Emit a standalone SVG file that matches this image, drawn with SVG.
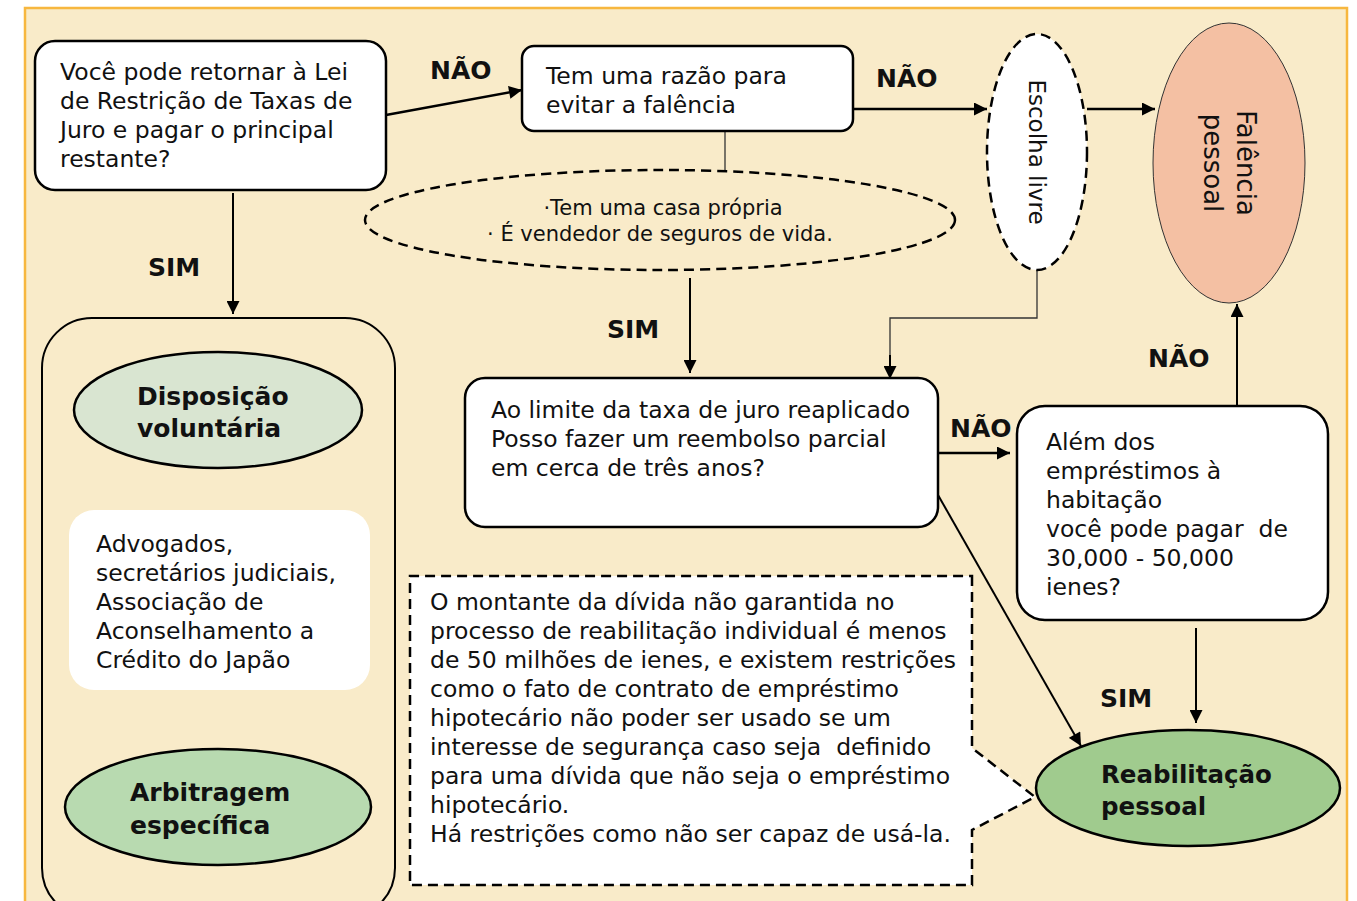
<svg xmlns="http://www.w3.org/2000/svg" width="1357" height="901" viewBox="0 0 1357 901">
<defs>
<marker id="ah" viewBox="0 0 10 10" refX="10" refY="5" markerWidth="15" markerHeight="13" markerUnits="userSpaceOnUse" orient="auto"><path d="M0,0 L10,5 L0,10 z" fill="#000"/></marker>
<style>
.t{font-family:"DejaVu Sans",Verdana,sans-serif;font-size:23.5px;fill:#111;white-space:pre}
.b{font-family:"DejaVu Sans",Verdana,sans-serif;font-size:25px;font-weight:bold;fill:#111}
.lb{font-family:"DejaVu Sans",Verdana,sans-serif;font-size:25px;font-weight:bold;fill:#111}
.box{fill:#fff;stroke:#000;stroke-width:2.5}
.ln{fill:none;stroke:#000;stroke-width:2}
.thin{fill:none;stroke:#333;stroke-width:1.3}
.dash{stroke:#000;stroke-width:2.5;stroke-dasharray:10 6}
</style>
</defs>
<rect x="25" y="8" width="1322" height="900" fill="#F9EBC9" stroke="#F7B73F" stroke-width="2.5"/>

<g id="connectors">
<line class="ln" x1="386" y1="115" x2="522" y2="90" marker-end="url(#ah)" style="stroke-width:2.5"/>
<text class="lb" x="430" y="79">NÃO</text>
<line class="thin" x1="725" y1="131" x2="725" y2="170"/>
<line class="ln" x1="850" y1="109" x2="987" y2="109" marker-end="url(#ah)" style="stroke-width:2.5"/>
<text class="lb" x="876" y="87">NÃO</text>
<line class="ln" x1="1087" y1="109" x2="1155" y2="109" marker-end="url(#ah)" style="stroke-width:2.5"/>
<polyline class="thin" points="1037,270 1037,318 890,318 890,360"/>
<line class="ln" x1="890" y1="355" x2="890" y2="379" marker-end="url(#ah)"/>
<line class="ln" x1="690" y1="278" x2="690" y2="373" marker-end="url(#ah)"/>
<text class="lb" x="607" y="338">SIM</text>
<line class="ln" x1="938" y1="453" x2="1010" y2="453" marker-end="url(#ah)" style="stroke-width:2.5"/>
<text class="lb" x="950" y="437">NÃO</text>
<line class="ln" x1="1237" y1="406" x2="1237" y2="304" marker-end="url(#ah)"/>
<text class="lb" x="1148" y="367">NÃO</text>
<line class="ln" x1="1196" y1="628" x2="1196" y2="723" marker-end="url(#ah)"/>
<text class="lb" x="1100" y="707">SIM</text>
<line class="ln" x1="938" y1="495" x2="1081" y2="746" marker-end="url(#ah)"/>
<line class="ln" x1="233" y1="193" x2="233" y2="314" marker-end="url(#ah)"/>
<text class="lb" x="148" y="276">SIM</text>
</g>

<g id="n1">
<rect class="box" x="35" y="41" width="351" height="149" rx="20"/>
<text class="t" x="60" y="80">Você pode retornar à Lei</text>
<text class="t" x="60" y="109">de Restrição de Taxas de</text>
<text class="t" x="60" y="138">Juro e pagar o principal</text>
<text class="t" x="60" y="167">restante?</text>
</g>

<g id="n2">
<rect class="box" x="522" y="46" width="331" height="85" rx="12"/>
<text class="t" x="546" y="84">Tem uma razão para</text>
<text class="t" x="546" y="113">evitar a falência</text>
</g>

<g id="cond">
<ellipse class="dash" cx="660" cy="220" rx="295" ry="50" fill="none"/>
<text class="t" x="663" y="215" text-anchor="middle" style="font-size:21px">·Tem uma casa própria</text>
<text class="t" x="660" y="241" text-anchor="middle" style="font-size:21px">· É vendedor de seguros de vida.</text>
</g>

<g id="escolha">
<ellipse class="dash" cx="1037" cy="152" rx="50" ry="118" fill="#fff"/>
<text class="t" transform="translate(1029,152) rotate(90)" text-anchor="middle" x="0" y="0" style="font-size:23px">Escolha livre</text>
</g>

<g id="falencia">
<ellipse cx="1229" cy="163" rx="76" ry="140" fill="#F4C0A3" stroke="#333" stroke-width="1"/>
<text class="t" transform="translate(1229,163) rotate(90)" text-anchor="middle" style="font-size:26px"><tspan x="0" y="-8">Falência</tspan><tspan x="0" y="25">pessoal</tspan></text>
</g>

<g id="n3">
<rect class="box" x="465" y="378" width="473" height="149" rx="20"/>
<text class="t" x="491" y="418">Ao limite da taxa de juro reaplicado</text>
<text class="t" x="491" y="447">Posso fazer um reembolso parcial</text>
<text class="t" x="491" y="476">em cerca de três anos?</text>
</g>

<g id="n4">
<rect class="box" x="1017" y="406" width="311" height="214" rx="28"/>
<text class="t" x="1046" y="450">Além dos</text>
<text class="t" x="1046" y="479">empréstimos à</text>
<text class="t" x="1046" y="508">habitação</text>
<text class="t" x="1046" y="537">você pode pagar  de</text>
<text class="t" x="1046" y="566">30,000 - 50,000</text>
<text class="t" x="1046" y="595">ienes?</text>
</g>

<g id="reab">
<ellipse cx="1188" cy="788" rx="152" ry="58" fill="#A0CB8E" stroke="#000" stroke-width="2.5"/>
<text class="b" x="1101" y="783" style="font-size:24.5px">Reabilitação</text>
<text class="b" x="1101" y="815" style="font-size:24.5px">pessoal</text>
</g>

<g id="note">
<path class="dash" d="M972,576 L972,748 L1035,797 L972,830 L972,885 L410,885 L410,576 Z" fill="#fff"/>
<text class="t" x="430" y="610">O montante da dívida não garantida no</text>
<text class="t" x="430" y="639">processo de reabilitação individual é menos</text>
<text class="t" x="430" y="668">de 50 milhões de ienes, e existem restrições</text>
<text class="t" x="430" y="697">como o fato de contrato de empréstimo</text>
<text class="t" x="430" y="726">hipotecário não poder ser usado se um</text>
<text class="t" x="430" y="755">interesse de segurança caso seja  definido</text>
<text class="t" x="430" y="784">para uma dívida que não seja o empréstimo</text>
<text class="t" x="430" y="813">hipotecário.</text>
<text class="t" x="430" y="842">Há restrições como não ser capaz de usá-la.</text>
</g>

<g id="container">
<rect x="42" y="318" width="353" height="600" rx="50" fill="none" stroke="#000" stroke-width="2"/>
</g>

<g id="disp">
<ellipse cx="218" cy="410" rx="144" ry="58" fill="#D9E5D1" stroke="#000" stroke-width="2.5"/>
<text class="b" x="137" y="405">Disposição</text>
<text class="b" x="137" y="437">voluntária</text>
</g>

<g id="adv">
<rect x="69" y="510" width="301" height="180" rx="25" fill="#fff"/>
<text class="t" x="96" y="552">Advogados,</text>
<text class="t" x="96" y="581">secretários judiciais,</text>
<text class="t" x="96" y="610">Associação de</text>
<text class="t" x="96" y="639">Aconselhamento a</text>
<text class="t" x="96" y="668">Crédito do Japão</text>
</g>

<g id="arb">
<ellipse cx="218" cy="807" rx="153" ry="58" fill="#B8DAB0" stroke="#000" stroke-width="2.5"/>
<text class="b" x="130" y="801">Arbitragem</text>
<text class="b" x="130" y="834">específica</text>
</g>
</svg>
